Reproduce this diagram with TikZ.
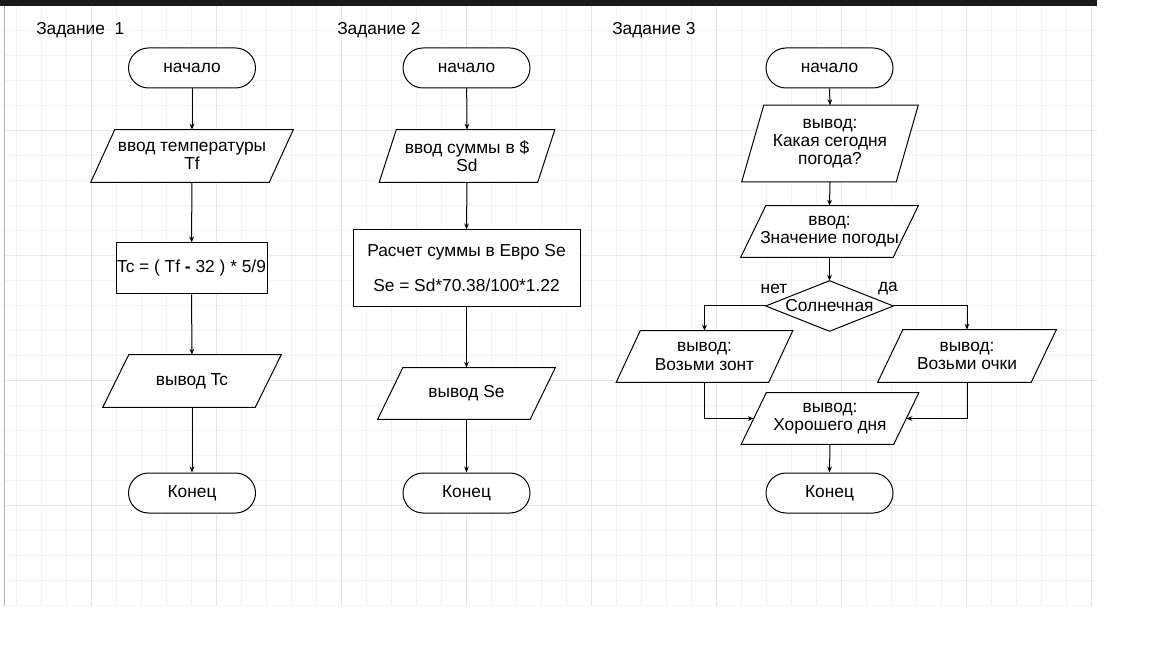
\documentclass[tikz,border=0pt]{standalone}
\usepackage{fontspec}
\setmainfont{Liberation Sans}
\usetikzlibrary{arrows.meta}

\definecolor{barcol}{HTML}{161A1F}
\definecolor{gridmin}{HTML}{F3F3F3}
\definecolor{gridmaj}{HTML}{E6E6E6}
\definecolor{gridedge}{HTML}{B5B5B5}

\pgfdeclarelayer{bg}
\pgfsetlayers{bg,main}

\begin{document}
\begin{tikzpicture}[x=0.75pt, y=-0.75pt, font=\fontsize{13pt}{13.7pt}\selectfont,
    term/.style={draw, fill=white, line width=0.75pt, rounded corners=15pt, minimum width=95.25pt, minimum height=30pt, inner sep=0pt},
    proc/.style={draw, fill=white, line width=0.75pt, inner sep=0pt, align=center},
    io/.style={inner sep=0pt, align=center},
    arr/.style={line width=0.75pt, -{Stealth[length=4.5pt, width=3.5pt]}},
    minor/.style={gridmin, line width=0.75pt},
    major/.style={gridmaj, line width=0.75pt}]

    \useasboundingbox (0,0) rectangle (1152,648);

    % 标题
    \node[anchor=west, inner sep=0pt] (lbl1) at (36,30) {Задание\ \ 1};
    \node[anchor=west, inner sep=0pt] (lbl2) at (337,30) {Задание 2};
    \node[anchor=west, inner sep=0pt] (lbl3) at (612,30) {Задание 3};

    % 任务1
    \node[term] (s1) at (192,68) {начало};
    \node[io, minimum width=133.5pt, minimum height=39pt] (in1) at (192,156) {ввод температуры\\Tf};
    \node[proc, minimum width=113.25pt, minimum height=38.25pt] (p1) at (191.5,268.5) {Tc = ( Tf \textbf{-} 32 ) * 5/9};
    \node[io, minimum width=114pt, minimum height=39pt] (out1) at (192,381) {вывод Tc};
    \node[term] (e1) at (192,493) {Конец};
    \draw[arr] (s1) -- (in1);
    \draw[arr] (in1) -- (p1);
    \draw[arr] (p1) -- (out1);
    \draw[arr] (out1) -- (e1);

    % 任务2
    \node[term] (s2) at (466.5,68) {начало};
    \node[io, minimum width=118.5pt, minimum height=39pt] (in2) at (467,156) {ввод суммы в \$\\Sd};
    \node[proc, minimum width=170.25pt, minimum height=57.75pt] (p2) at (466.5,268.5) {Расчет суммы в Евро Se\\[12.5pt]Se = Sd*70.38/100*1.22};
    \node[io, minimum width=114pt, minimum height=38.25pt] (out2) at (466.5,393.5) {вывод Se};
    \node[term] (e2) at (466.5,493) {Конец};
    \draw[arr] (s2) -- (in2.north);
    \draw[arr] (in2.south) -- (p2.north);
    \draw[arr] (p2) -- (out2);
    \draw[arr] (out2) -- (e2);

    % 任务3
    \node[term] (s3) at (829.5,68) {начало};
    \node[io, minimum width=115.5pt, minimum height=57pt] (o3) at (830,143.5) {вывод:\\Какая сегодня\\погода?};
    \node[io, minimum width=114pt, minimum height=38.25pt] (i3) at (829.5,231.5) {ввод:\\Значение погоды};
    \node[io, minimum width=95.25pt, minimum height=37.5pt] (d3) at (829.5,306) {Солнечная};
    \node (no3) at (774,289) {нет};
    \node (yes3) at (888,289) {да};
    \node[io, minimum width=114pt, minimum height=38.25pt] (z3) at (704.5,356.5) {вывод:\\Возьми зонт};
    \node[io, minimum width=114.75pt, minimum height=39pt] (g3) at (967,356) {вывод:\\Возьми очки};
    \node[io, minimum width=114pt, minimum height=38.25pt] (h3) at (830,418.5) {вывод:\\Хорошего дня};
    \node[term] (e3) at (829.5,493) {Конец};
    \draw[arr] (s3.south) -- (o3.north);
    \draw[arr] (o3.south) -- (i3.north);
    \draw[arr] (i3.south) -- (d3.north);
    \draw[arr] (d3.west) -| (z3.north);
    \draw[arr] (d3.east) -| (g3.north);
    \draw[arr] (z3.south) |- (h3.west);
    \draw[arr] (g3.south) |- (h3.east);
    \draw[arr] (h3.south) -- (e3.north);

    \begin{pgfonlayer}{bg}
        \fill[white] (0,0) rectangle (1152,648);
        % 网格背景
        \foreach \i in {0,...,43} {
            \draw[minor] (16.7+25*\i,6) -- (16.7+25*\i,606);
        }
        \foreach \j in {1,...,24} {
            \draw[minor] (5,5.7+25*\j) -- (1097,5.7+25*\j);
        }
        \foreach \i in {0,...,8} {
            \draw[major] (91.7+125*\i,6) -- (91.7+125*\i,606);
        }
        \foreach \j in {1,...,4} {
            \draw[major] (5,5.7+125*\j) -- (1097,5.7+125*\j);
        }
        \draw[gridedge, line width=0.75pt] (4.5,6) -- (4.5,606);
        \fill[barcol] (0,0) rectangle (1097,6.3);
        % 平行四边形和菱形
        \foreach \n/\s in {in1/9pt, out1/9.75pt, in2/6.4pt, out2/9.4pt, o3/8.25pt, i3/9.4pt, z3/9pt, g3/9.4pt, h3/9.4pt} {
            \draw[fill=white, line width=0.75pt] ([xshift=\s]\n.north west) -- ([xshift=\s]\n.north east) -- ([xshift=-\s]\n.south east) -- ([xshift=-\s]\n.south west) -- cycle;
        }
        \draw[fill=white, line width=0.75pt] (d3.north) -- (d3.east) -- (d3.south) -- (d3.west) -- cycle;
    \end{pgfonlayer}
\end{tikzpicture}
\end{document}
